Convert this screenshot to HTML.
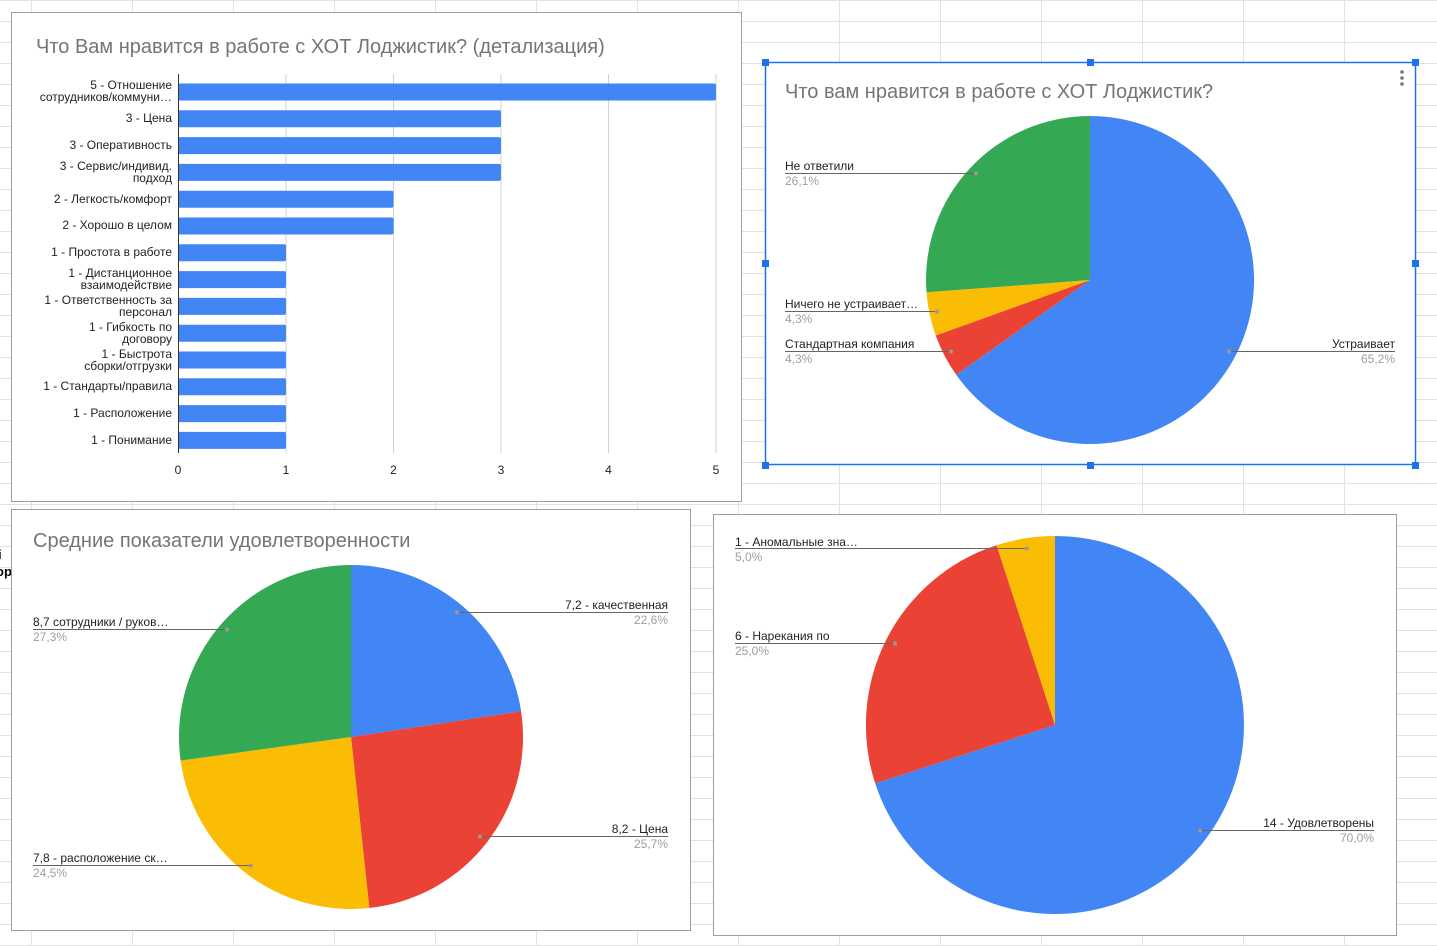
<!DOCTYPE html>
<html><head><meta charset="utf-8"><style>
html,body{margin:0;padding:0;background:#fff;}
svg{display:block;font-family:"Liberation Sans",Arial,sans-serif;}
</style></head><body>
<svg width="1437" height="946" viewBox="0 0 1437 946" xmlns="http://www.w3.org/2000/svg">
<defs>
<pattern id="g" x="-69" y="1" width="101" height="21" patternUnits="userSpaceOnUse">
<path d="M100.5 0V21M0 20.5H101" stroke="#e2e2e2" stroke-width="1" fill="none"/>
</pattern>
</defs>
<rect width="1437" height="946" fill="url(#g)"/>
<text x="-2" y="559" font-size="13" font-weight="bold" fill="#000">і</text>
<text x="-4" y="576" font-size="13" font-weight="bold" fill="#000">ор</text>

<!-- Chart 1 -->
<rect x="11.5" y="12.5" width="730" height="489" fill="#fff" stroke="#9e9e9e"/>
<text x="36" y="53" font-size="20" fill="#757575">Что Вам нравится в работе с ХОТ Лоджистик? (детализация)</text>
<g stroke="#d0d0d0" stroke-width="1">
<line x1="286" y1="74" x2="286" y2="453"/><line x1="393.5" y1="74" x2="393.5" y2="453"/>
<line x1="501" y1="74" x2="501" y2="453"/><line x1="608.5" y1="74" x2="608.5" y2="453"/>
<line x1="716" y1="74" x2="716" y2="453"/>
</g>
<g fill="#4285f4">
<rect x="178" y="83.5" width="538" height="17" rx="2"/>
<rect x="178" y="110.3" width="323" height="17" rx="2"/>
<rect x="178" y="137.1" width="323" height="17" rx="2"/>
<rect x="178" y="163.9" width="323" height="17" rx="2"/>
<rect x="178" y="190.7" width="215.5" height="17" rx="2"/>
<rect x="178" y="217.5" width="215.5" height="17" rx="2"/>
<rect x="178" y="244.3" width="108" height="17" rx="2"/>
<rect x="178" y="271.1" width="108" height="17" rx="2"/>
<rect x="178" y="297.9" width="108" height="17" rx="2"/>
<rect x="178" y="324.7" width="108" height="17" rx="2"/>
<rect x="178" y="351.5" width="108" height="17" rx="2"/>
<rect x="178" y="378.3" width="108" height="17" rx="2"/>
<rect x="178" y="405.1" width="108" height="17" rx="2"/>
<rect x="178" y="431.9" width="108" height="17" rx="2"/>
</g>
<line x1="178.5" y1="74" x2="178.5" y2="453" stroke="#333"/>
<g font-size="12" fill="#222" text-anchor="end">
<text x="172" y="89">5 - Отношение</text><text x="172" y="101">сотрудников/коммуни…</text>
<text x="172" y="122">3 - Цена</text>
<text x="172" y="149">3 - Оперативность</text>
<text x="172" y="170">3 - Сервис/индивид.</text><text x="172" y="182">подход</text>
<text x="172" y="203">2 - Легкость/комфорт</text>
<text x="172" y="229">2 - Хорошо в целом</text>
<text x="172" y="256">1 - Простота в работе</text>
<text x="172" y="277">1 -  Дистанционное</text><text x="172" y="289">взаимодействие</text>
<text x="172" y="304">1 - Ответственность за</text><text x="172" y="316">персонал</text>
<text x="172" y="331">1 - Гибкость по</text><text x="172" y="343">договору</text>
<text x="172" y="358">1 - Быстрота</text><text x="172" y="370">сборки/отгрузки</text>
<text x="172" y="390">1 - Стандарты/правила</text>
<text x="172" y="417">1 - Расположение</text>
<text x="172" y="444">1 - Понимание</text>
</g>
<g font-size="12" fill="#222" text-anchor="middle">
<text x="178" y="474">0</text><text x="286" y="474">1</text><text x="393.5" y="474">2</text>
<text x="501" y="474">3</text><text x="608.5" y="474">4</text><text x="716" y="474">5</text>
</g>

<!-- Chart 2 -->
<rect x="765" y="62" width="651" height="403" fill="#fff"/>
<rect x="765.5" y="62.5" width="650" height="402" fill="none" stroke="#1a73e8" stroke-width="1.5"/>
<g fill="#1a73e8">
<rect x="762" y="59" width="7" height="7"/><rect x="1087" y="59" width="7" height="7"/><rect x="1412" y="59" width="7" height="7"/>
<rect x="762" y="260" width="7" height="7"/><rect x="1412" y="260" width="7" height="7"/>
<rect x="762" y="462" width="7" height="7"/><rect x="1087" y="462" width="7" height="7"/><rect x="1412" y="462" width="7" height="7"/>
</g>
<g fill="#757575"><circle cx="1402" cy="72" r="1.8"/><circle cx="1402" cy="78" r="1.8"/><circle cx="1402" cy="84" r="1.8"/></g>
<text x="785" y="98" font-size="20" fill="#757575">Что вам нравится в работе с ХОТ Лоджистик?</text>
<path d="M1090,280 L1090,116 A164,164 0 1 1 956.2,374.8 Z" fill="#4285f4"/>
<path d="M1090,280 L956.2,374.8 A164,164 0 0 1 935.7,335.5 Z" fill="#ea4335"/>
<path d="M1090,280 L935.7,335.5 A164,164 0 0 1 926.5,292.3 Z" fill="#fbbc04"/>
<path d="M1090,280 L926.5,292.3 A164,164 0 0 1 1090,116 Z" fill="#34a853"/>
<g stroke="#666" stroke-width="1">
<line x1="785" y1="173.5" x2="976" y2="173.5"/>
<line x1="785" y1="311.5" x2="937" y2="311.5"/>
<line x1="785" y1="351.5" x2="951" y2="351.5"/>
<line x1="1229" y1="351.5" x2="1395" y2="351.5"/>
</g>
<g fill="#999"><circle cx="976" cy="173.5" r="2"/><circle cx="937" cy="311.5" r="2"/><circle cx="951" cy="351.5" r="2"/><circle cx="1229" cy="351.5" r="2"/></g>
<g font-size="12">
<text x="785" y="170" fill="#222">Не ответили</text><text x="785" y="185" fill="#9e9e9e">26,1%</text>
<text x="785" y="308" fill="#222">Ничего не устраивает…</text><text x="785" y="323" fill="#9e9e9e">4,3%</text>
<text x="785" y="348" fill="#222">Стандартная компания</text><text x="785" y="363" fill="#9e9e9e">4,3%</text>
<text x="1395" y="348" fill="#222" text-anchor="end">Устраивает</text><text x="1395" y="363" fill="#9e9e9e" text-anchor="end">65,2%</text>
</g>

<!-- Chart 3 -->
<rect x="11.5" y="509.5" width="679" height="421" fill="#fff" stroke="#9e9e9e"/>
<text x="33" y="547" font-size="20" fill="#757575">Средние показатели удовлетворенности</text>
<path d="M351,737 L351,565 A172,172 0 0 1 521.1,711.3 Z" fill="#4285f4"/>
<path d="M351,737 L521.1,711.3 A172,172 0 0 1 369.3,908 Z" fill="#ea4335"/>
<path d="M351,737 L369.3,908 A172,172 0 0 1 180.6,760.6 Z" fill="#fbbc04"/>
<path d="M351,737 L180.6,760.6 A172,172 0 0 1 351,565 Z" fill="#34a853"/>
<g stroke="#666">
<line x1="457" y1="612.5" x2="668" y2="612.5"/>
<line x1="33" y1="629.5" x2="227" y2="629.5"/>
<line x1="480" y1="836.5" x2="668" y2="836.5"/>
<line x1="33" y1="865.5" x2="251" y2="865.5"/>
</g>
<g fill="#999"><circle cx="457" cy="612.5" r="2"/><circle cx="227" cy="629.5" r="2"/><circle cx="480" cy="836.5" r="2"/><circle cx="251" cy="865.5" r="2"/></g>
<g font-size="12">
<text x="668" y="609" fill="#222" text-anchor="end">7,2 - качественная</text><text x="668" y="624" fill="#9e9e9e" text-anchor="end">22,6%</text>
<text x="33" y="626" fill="#222">8,7 сотрудники / руков…</text><text x="33" y="641" fill="#9e9e9e">27,3%</text>
<text x="668" y="833" fill="#222" text-anchor="end">8,2 - Цена</text><text x="668" y="848" fill="#9e9e9e" text-anchor="end">25,7%</text>
<text x="33" y="862" fill="#222">7,8 - расположение ск…</text><text x="33" y="877" fill="#9e9e9e">24,5%</text>
</g>

<!-- Chart 4 -->
<rect x="713.5" y="514.5" width="683" height="421" fill="#fff" stroke="#9e9e9e"/>
<path d="M1055,725 L1055,536 A189,189 0 1 1 875.2,783.4 Z" fill="#4285f4"/>
<path d="M1055,725 L875.2,783.4 A189,189 0 0 1 996.6,545.2 Z" fill="#ea4335"/>
<path d="M1055,725 L996.6,545.2 A189,189 0 0 1 1055,536 Z" fill="#fbbc04"/>
<g stroke="#666">
<line x1="735" y1="548.5" x2="1027" y2="548.5"/>
<line x1="735" y1="643.5" x2="895" y2="643.5"/>
<line x1="1200" y1="830.5" x2="1374" y2="830.5"/>
</g>
<g fill="#999"><circle cx="1027" cy="548.5" r="2"/><circle cx="895" cy="643.5" r="2"/><circle cx="1200" cy="830.5" r="2"/></g>
<g font-size="12">
<text x="735" y="546" fill="#222">1 - Аномальные зна…</text><text x="735" y="561" fill="#9e9e9e">5,0%</text>
<text x="735" y="640" fill="#222">6 - Нарекания по</text><text x="735" y="655" fill="#9e9e9e">25,0%</text>
<text x="1374" y="827" fill="#222" text-anchor="end">14 - Удовлетворены</text><text x="1374" y="842" fill="#9e9e9e" text-anchor="end">70,0%</text>
</g>
</svg>
</body></html>
